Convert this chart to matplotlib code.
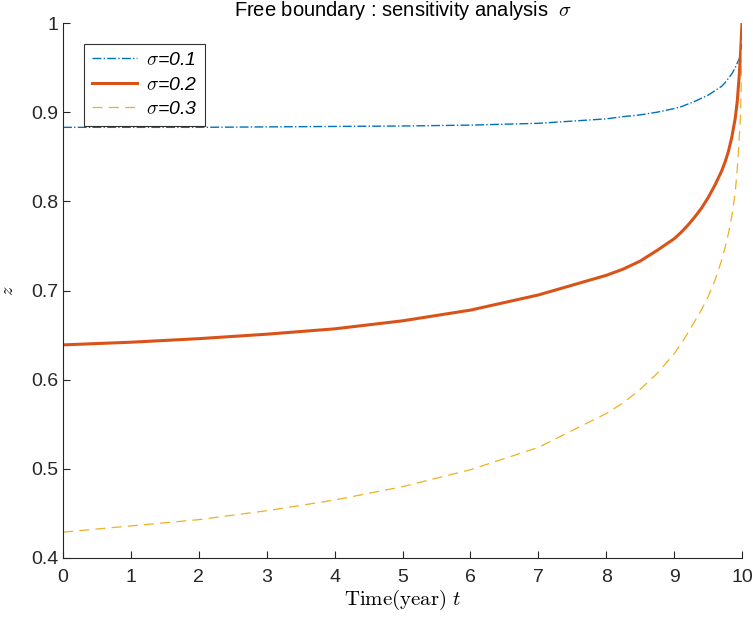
import matplotlib
matplotlib.use("Agg")
import matplotlib.pyplot as plt
import numpy as np

# values
t = [0, 1, 2, 3, 4, 5, 6, 7, 8, 8.25, 8.5, 8.75, 9, 9.1, 9.2, 9.3, 9.4, 9.5,
     9.6, 9.7, 9.75, 9.8, 9.85, 9.9, 9.93, 9.96, 9.98, 10]
z_01 = [0.883, 0.883, 0.883, 0.8835, 0.884, 0.8845, 0.8855, 0.8875, 0.8925, 0.895,
        0.897, 0.900, 0.904, 0.906, 0.909, 0.912, 0.9155, 0.919, 0.924, 0.929,
        0.933, 0.938, 0.943, 0.950, 0.955, 0.960, 0.964, 0.975]
z_02 = [0.639, 0.642, 0.646, 0.651, 0.657, 0.666, 0.678, 0.695, 0.717, 0.724,
        0.733, 0.745, 0.758, 0.765, 0.773, 0.782, 0.792, 0.804, 0.818, 0.834,
        0.844, 0.856, 0.872, 0.893, 0.912, 0.942, 0.968, 1.0]
z_03 = [0.429, 0.436, 0.443, 0.453, 0.465, 0.480, 0.499, 0.524, 0.562, 0.574,
        0.589, 0.607, 0.629, 0.640, 0.652, 0.665, 0.678, 0.693, 0.711, 0.734,
        0.748, 0.764, 0.783, 0.810, 0.836, 0.872, 0.900, 0.980]
labels = [r"$\sigma$=0.1", r"$\sigma$=0.2", r"$\sigma$=0.3"]

plt.rcParams['font.family'] = ['Liberation Sans', 'DejaVu Sans']
plt.rcParams['mathtext.fontset'] = 'cm'

fig = plt.figure(figsize=(7.53, 6.22), dpi=100)
ax = fig.add_axes([0.0837, 0.1029, 0.9017, 0.8601])

ax.plot(t, z_01, color='#0072BD', lw=1.0, ls='-.', label=labels[0])
ax.plot(t, z_02, color='#D95319', lw=2.2, ls='-', label=labels[1])
ax.plot(t, z_03, color='#EDB120', lw=0.9, ls=(0, (8, 5)), label=labels[2])

ax.set_xlim(0, 10)
ax.set_ylim(0.4, 1.0)
ax.set_xticks(np.arange(0, 11, 1))
ax.set_yticks([0.4, 0.5, 0.6, 0.7, 0.8, 0.9, 1.0])
ax.set_yticklabels(["0.4", "0.5", "0.6", "0.7", "0.8", "0.9", "1"])
ax.tick_params(direction='in', length=5, labelsize=14, colors='0.15', width=0.8)
ax.tick_params(axis='x', pad=8)
for s in ['top', 'right']:
    ax.spines[s].set_visible(False)
for s in ['left', 'bottom']:
    ax.spines[s].set_color('0.15')
    ax.spines[s].set_linewidth(0.8)

ax.set_title("Free boundary : sensitivity analysis  $\\sigma$", fontsize=14.5, pad=5)
ax.set_xlabel(r"$\mathrm{Time(year)}\ t$", fontsize=15, labelpad=1)
ax.set_ylabel(r"$z$", fontsize=13, labelpad=10)

leg = ax.legend(loc='upper left', bbox_to_anchor=(0.031, 0.961), fontsize=14,
                frameon=True, fancybox=False, handlelength=2.3, borderpad=0.4,
                labelspacing=0.35, handletextpad=0.5, borderaxespad=0)
leg.get_frame().set_edgecolor('black')
leg.get_frame().set_linewidth(0.8)
for txt in leg.get_texts():
    txt.set_fontstyle('italic')

plt.savefig("out.png", dpi=100)
